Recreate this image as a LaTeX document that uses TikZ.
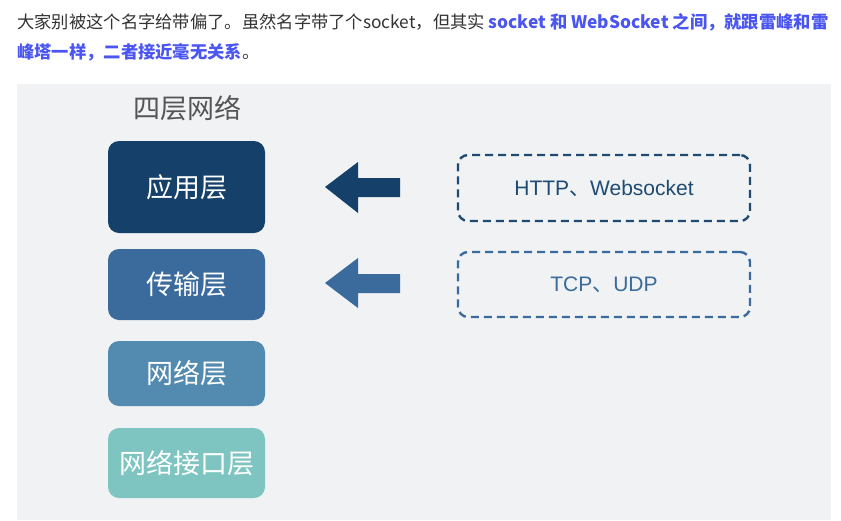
\documentclass[tikz,border=0pt]{standalone}
\usepackage{fontspec}
\setmainfont{Noto Sans CJK SC}
\newfontfamily\latinsans{Liberation Sans}
\definecolor{bgray}{HTML}{F0F2F4}
\definecolor{cA}{HTML}{14406A}
\definecolor{cB}{HTML}{3A6B9C}
\definecolor{cC}{HTML}{538AB0}
\definecolor{cD}{HTML}{7EC5C1}
\definecolor{ctitle}{HTML}{555555}
\definecolor{ctext}{HTML}{333333}
\definecolor{cblue}{HTML}{4A55F2}
\definecolor{dashA}{HTML}{1F4B73}
\begin{document}
\begin{tikzpicture}[x=1pt,y=-1pt,
  layerbox/.style={draw=none,rounded corners=11pt,minimum width=157pt,inner sep=0pt,text=white,font=\fontsize{27}{30}\selectfont},
  protobox/.style={dashed,line width=2.4pt,dash pattern=on 8pt off 5pt,rounded corners=10pt,minimum width=292pt,inner sep=0pt,font=\fontsize{21}{24}\selectfont},
  toptext/.style={anchor=west,inner sep=0pt,font=\fontsize{17.3}{20}\selectfont,text=ctext}]
\useasboundingbox (0,0) rectangle (841,520);
\fill[white] (0,0) rectangle (841,520);
\fill[bgray] (17,84) rectangle (831,520);
\node[toptext] (l1) at (17,22) {大家别被这个名字给带偏了。虽然名字带了个socket，但其实 \textcolor{cblue}{\bfseries socket 和 WebSocket 之间，就跟雷峰和雷}};
\node[toptext] (l2) at (17,52) {\textcolor{cblue}{\bfseries 峰塔一样，二者接近毫无关系}。};
\node[text=ctitle,font=\fontsize{27}{30}\selectfont,inner sep=0pt] (title) at (187,108) {四层网络};
\node[layerbox,fill=cA,minimum height=92pt] (app) at (186.5,187) {应用层};
\node[layerbox,fill=cB,minimum height=71pt] (trans) at (186.5,284.5) {传输层};
\node[layerbox,fill=cC,minimum height=65pt] (net) at (186.5,373.5) {网络层};
\node[layerbox,fill=cD,minimum height=70pt] (link) at (186.5,463) {网络接口层};
\fill[cA] (325,187) -- (358,162) -- (358,178) -- (400,178) -- (400,197) -- (358,197) -- (358,213) -- cycle;
\fill[cB] (325,283) -- (358,258) -- (358,274) -- (400,274) -- (400,293) -- (358,293) -- (358,308) -- cycle;
\node[protobox,draw=dashA,text=dashA,minimum height=66pt] (http) at (604,188) {{\latinsans HTTP}、{\latinsans Websocket}};
\node[protobox,draw=cB,text=cB,minimum height=65pt] (tcp) at (604,284.5) {{\latinsans TCP}、{\latinsans UDP}};
\end{tikzpicture}
\end{document}
